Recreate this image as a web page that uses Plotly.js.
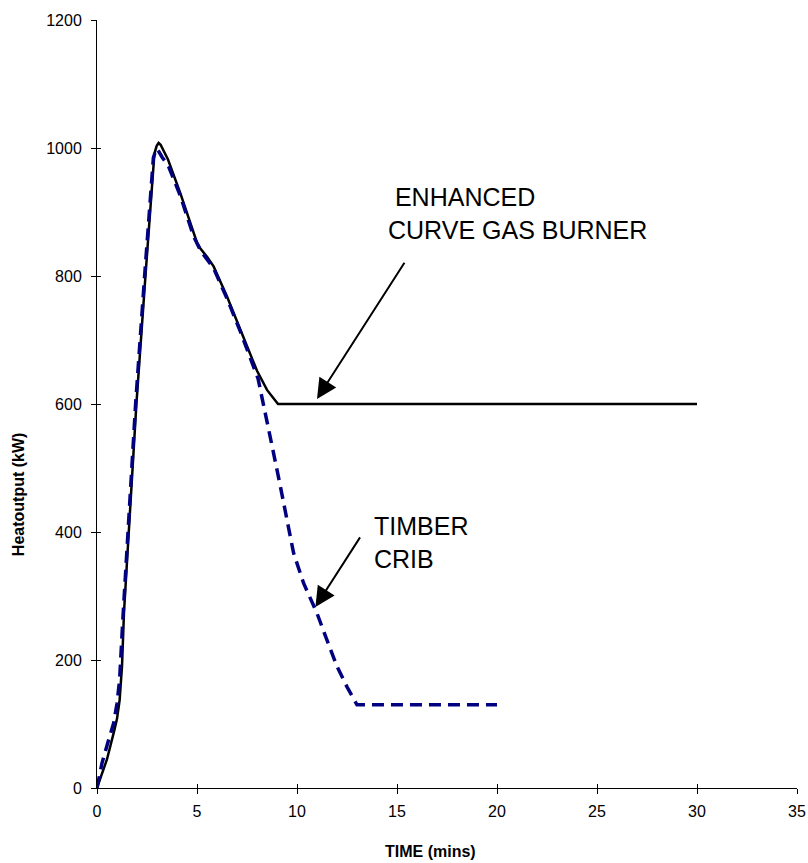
<!DOCTYPE html>
<html>
<head>
<meta charset="utf-8">
<script src="https://cdn.plot.ly/plotly-3.0.1.min.js"></script>
<style>
  html, body { margin: 0; padding: 0; background: #ffffff; }
  #chart { width: 808px; height: 863px; }
</style>
</head>
<body>
<div id="chart"></div>
<script>
// Enhanced curve gas burner (solid black)
const burnerTime = [0, 0.5, 0.85, 1.0, 1.13, 1.25, 1.35, 1.97, 2.42, 2.87, 2.98, 3.08, 3.18, 3.3, 3.55, 4.17, 4.83, 5.0, 5.17, 5.5, 5.83, 6.5, 7.17, 8.0, 8.5, 9.05, 30];
const burnerHeat = [0, 45, 88, 108, 137, 190, 275, 600, 799, 991, 1003, 1008, 1005, 997, 982, 929, 867, 852, 843, 830, 815, 768, 716, 652, 622, 600, 600];

// Timber crib (dashed navy)
const cribTime = [0, 0.25, 0.58, 0.83, 1.0, 1.13, 1.3, 1.93, 2.38, 2.82, 2.97, 3.1, 3.25, 3.58, 4.17, 4.83, 5.17, 5.5, 5.83, 6.5, 7.17, 8.05, 8.5, 8.83, 9.17, 9.5, 9.83, 10.33, 11.0, 11.5, 12.0, 12.5, 13.0, 20];
const cribHeat = [0, 39, 75, 101, 132, 169, 268, 600, 800, 985, 999, 994, 986, 971, 925, 862, 840, 827, 812, 765, 713, 640, 575, 523, 471, 419, 367, 320, 273, 231, 190, 158, 130, 130];

// Axis ticks
const xTicks = [0, 5, 10, 15, 20, 25, 30, 35];
const yTicks = [0, 200, 400, 600, 800, 1000, 1200];

// Labels
const xTitle = "TIME (mins)";
const yTitle = "Heatoutput (kW)";
const burnerLabel = "\u00A0ENHANCED<br>CURVE GAS BURNER";
const cribLabel = "TIMBER<br>CRIB";

const FONT = "Liberation Sans, Arial, Helvetica, sans-serif";

const traces = [
  {
    x: burnerTime, y: burnerHeat, type: "scatter", mode: "lines",
    name: "Enhanced curve gas burner",
    line: { color: "#000000", width: 2.5 },
    hoverinfo: "skip"
  },
  {
    x: cribTime, y: cribHeat, type: "scatter", mode: "lines",
    name: "Timber crib",
    line: { color: "#000080", width: 3.5, dash: "12px,7px" },
    hoverinfo: "skip"
  },
  { x: [], y: [], xaxis: "x2", yaxis: "y2", type: "scatter", mode: "lines", showlegend: false, hoverinfo: "skip" }
];

const baseAxis = {
  showgrid: false, zeroline: false, showline: true,
  linecolor: "#000000", linewidth: 1,
  ticks: "outside", ticklen: 5, tickwidth: 1, tickcolor: "#000000",
  tickfont: { family: FONT, size: 16, color: "#000000" },
  fixedrange: true
};

const layout = {
  width: 808, height: 863,
  margin: { l: 97, r: 11, t: 20, b: 75, pad: 0 },
  paper_bgcolor: "#ffffff", plot_bgcolor: "#ffffff",
  showlegend: false,
  font: { family: FONT, color: "#000000" },
  xaxis: Object.assign({}, baseAxis, {
    range: [0, 35], tickmode: "array", tickvals: xTicks,
    ticktext: xTicks.map(String), ticklabelstandoff: 4
  }),
  yaxis: Object.assign({}, baseAxis, {
    range: [0, 1200], tickmode: "array", tickvals: yTicks,
    ticktext: yTicks.map(String), ticklabelstandoff: 6
  }),
  xaxis2: {
    overlaying: "x", anchor: "y2", range: [0, 35], tickmode: "array", tickvals: xTicks,
    ticks: "inside", ticklen: 4, tickwidth: 1, tickcolor: "#000000",
    showticklabels: false, showline: false, showgrid: false, zeroline: false, fixedrange: true
  },
  yaxis2: {
    overlaying: "y", anchor: "x2", range: [0, 1200], tickmode: "array", tickvals: yTicks,
    ticks: "inside", ticklen: 4, tickwidth: 1, tickcolor: "#000000",
    showticklabels: false, showline: false, showgrid: false, zeroline: false, fixedrange: true
  },
  annotations: [
    {
      xref: "paper", yref: "paper", x: 0.477, y: -0.083, xanchor: "center", yanchor: "middle",
      text: xTitle, showarrow: false,
      font: { family: FONT, size: 16, color: "#000000", weight: "bold" }
    },
    {
      xref: "paper", yref: "paper", x: -0.111, y: 0.383, xanchor: "center", yanchor: "middle",
      text: yTitle, showarrow: false, textangle: -90,
      font: { family: FONT, size: 16, color: "#000000", weight: "bold" }
    },
    {
      xref: "x", yref: "y", x: 14.45, y: 897, xanchor: "left", yanchor: "middle", align: "left",
      text: burnerLabel, showarrow: false,
      font: { family: FONT, size: 25, color: "#000000" }
    },
    {
      xref: "x", yref: "y", x: 13.75, y: 384, xanchor: "left", yanchor: "middle", align: "left",
      text: cribLabel, showarrow: false,
      font: { family: FONT, size: 25, color: "#000000" }
    },
    {
      xref: "x", yref: "y", x: 11.0, y: 608, axref: "x", ayref: "y", ax: 15.42, ay: 823,
      text: "", showarrow: true, arrowhead: 2, arrowsize: 2, arrowwidth: 2, arrowcolor: "#000000"
    },
    {
      xref: "x", yref: "y", x: 10.92, y: 283, axref: "x", ayref: "y", ax: 13.2, ay: 394,
      text: "", showarrow: true, arrowhead: 2, arrowsize: 2, arrowwidth: 2, arrowcolor: "#000000"
    }
  ]
};

Plotly.newPlot("chart", traces, layout, { displayModeBar: false, staticPlot: true });
</script>
</body>
</html>
